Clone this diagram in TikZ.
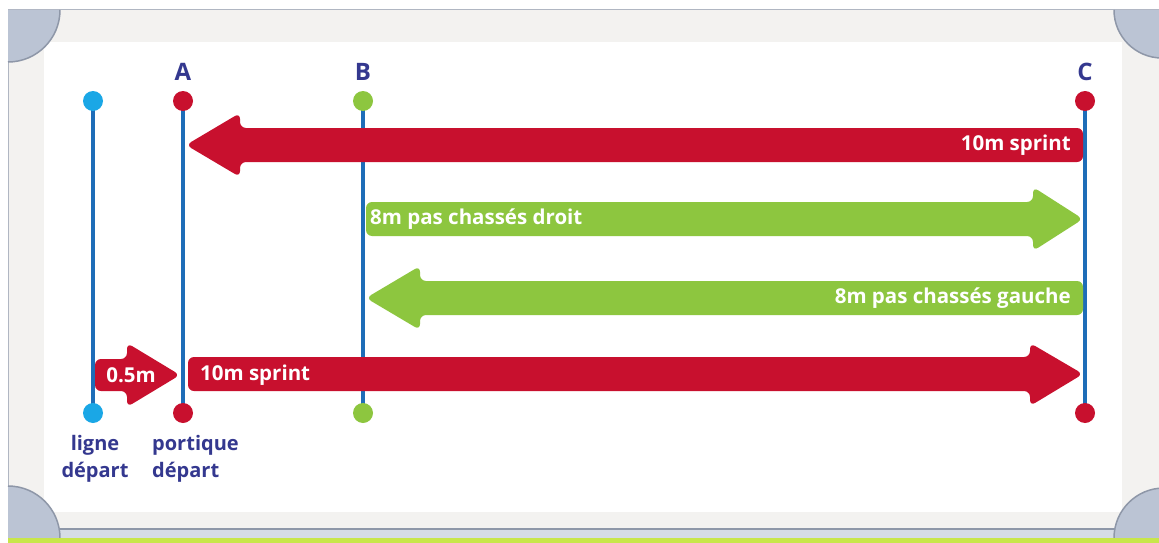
\documentclass[tikz,border=0pt]{standalone}
\usepackage{fontspec}
\setmainfont{Open Sans}
\begin{document}
\begin{tikzpicture}[x=1pt,y=-1pt]
\definecolor{postblue}{HTML}{1E6DB8}
\definecolor{sred}{HTML}{C8102E}
\definecolor{sgreen}{HTML}{8DC63F}
\definecolor{scyan}{HTML}{1AA7E6}
\definecolor{lblue}{HTML}{34388F}
\definecolor{frameg}{HTML}{F3F2F0}
\definecolor{cornerg}{HTML}{BBC4D4}
\definecolor{edgeg}{HTML}{8E97A8}
\definecolor{lime}{HTML}{C8E64A}
\tikzset{
  post/.style={draw=postblue, line width=3.6pt},
  dot/.style={circle, inner sep=0pt, minimum size=20pt},
  letter/.style={font=\bfseries\fontsize{24}{24}\selectfont, text=lblue},
  lab/.style={font=\bfseries\fontsize{20}{27}\selectfont, text=lblue, align=left, inner sep=0pt},
  atext/.style={font=\bfseries\fontsize{20.5}{20}\selectfont, text=white, inner sep=0pt},
  fat/.style={rounded corners=6pt},
  cornerarc/.style={draw=edgeg, line width=1.5pt}
}
\useasboundingbox (0,0) rectangle (1159,543);
% board frame
\fill[white] (0,0) rectangle (1159,543);
\fill[frameg] (8,10) rectangle (1159,538);
\draw[edgeg!70, line width=1pt] (1159,10) -- (8,10) -- (8,538);
\fill[white] (44,42) rectangle (1122,512);
\fill[cornerg!60] (8,528) rectangle (1159,538);
\draw[edgeg, line width=1.5pt] (8,529) -- (1159,529);
\fill[cornerg] (8,62) arc[start angle=90, end angle=0, radius=52] -- (8,10) -- cycle;
\draw[cornerarc] (8,62) arc[start angle=90, end angle=0, radius=52];
\fill[cornerg] (1114,10) arc[start angle=180, end angle=90, radius=48] -- (1162,10) -- cycle;
\draw[cornerarc] (1114,10) arc[start angle=180, end angle=90, radius=48];
\fill[cornerg] (8,486) arc[start angle=-90, end angle=0, radius=52] -- (8,538) -- cycle;
\draw[cornerarc] (8,486) arc[start angle=-90, end angle=0, radius=52];
\fill[cornerg] (1114,538) arc[start angle=180, end angle=270, radius=50] -- (1164,538) -- cycle;
\draw[cornerarc] (1114,538) arc[start angle=180, end angle=270, radius=50];
\fill[lime] (8,538) rectangle (1159,543);

% posts
\coordinate (Lt) at (93,101);  \coordinate (Lb) at (93,413);
\coordinate (At) at (183,101); \coordinate (Ab) at (183,413);
\coordinate (Bt) at (363,101); \coordinate (Bb) at (363,413);
\coordinate (Ct) at (1085,101); \coordinate (Cb) at (1085,413);
\draw[post] (Lt) -- (Lb);
\draw[post] (At) -- (Ab);
\draw[post] (Bt) -- (Bb);
\draw[post] (Ct) -- (Cb);

% arrows
\fill[sred, fat] (186,145) -- (240,113) -- (240,128) -- (1083,128) -- (1083,162) -- (240,162) -- (240,177) -- cycle;
\fill[sgreen, fat] (1083,219) -- (1033,187) -- (1033,202) -- (366,202) -- (366,236) -- (1033,236) -- (1033,251) -- cycle;
\fill[sgreen, fat] (366,298) -- (420,266) -- (420,281) -- (1083,281) -- (1083,315) -- (420,315) -- (420,330) -- cycle;
\fill[sred, fat] (1083,374) -- (1030,343) -- (1030,357) -- (188,357) -- (188,391) -- (1030,391) -- (1030,406) -- cycle;
\fill[sred, fat] (180,375) -- (127,343) -- (127,359) -- (95,359) -- (95,391) -- (127,391) -- (127,407) -- cycle;

% dots
\node[dot, fill=scyan] (ld1) at (Lt) {};
\node[dot, fill=scyan] (ld2) at (Lb) {};
\node[dot, fill=sred] (ad1) at (At) {};
\node[dot, fill=sred] (ad2) at (Ab) {};
\node[dot, fill=sgreen] (bd1) at (Bt) {};
\node[dot, fill=sgreen] (bd2) at (Bb) {};
\node[dot, fill=sred] (cd1) at (Ct) {};
\node[dot, fill=sred] (cd2) at (Cb) {};

% letters
\node[letter] (A) at (183,72) {A};
\node[letter] (B) at (363,72) {B};
\node[letter] (C) at (1085,72) {C};

% arrow texts
\node[atext, anchor=east] (t1) at (1071,145) {10m sprint};
\node[atext, anchor=west] (t2) at (370,219) {8m pas chassés droit};
\node[atext, anchor=east] (t3) at (1071,298) {8m pas chassés gauche};
\node[atext, anchor=west] (t4) at (200,375) {10m sprint};
\node[atext] (t5) at (131,375) {0.5m};

% bottom labels
\node[lab, align=center] (lig) at (95,459) {ligne\\départ};
\node[lab, anchor=west] (por) at (152,459) {portique\\départ};
\end{tikzpicture}
\end{document}
